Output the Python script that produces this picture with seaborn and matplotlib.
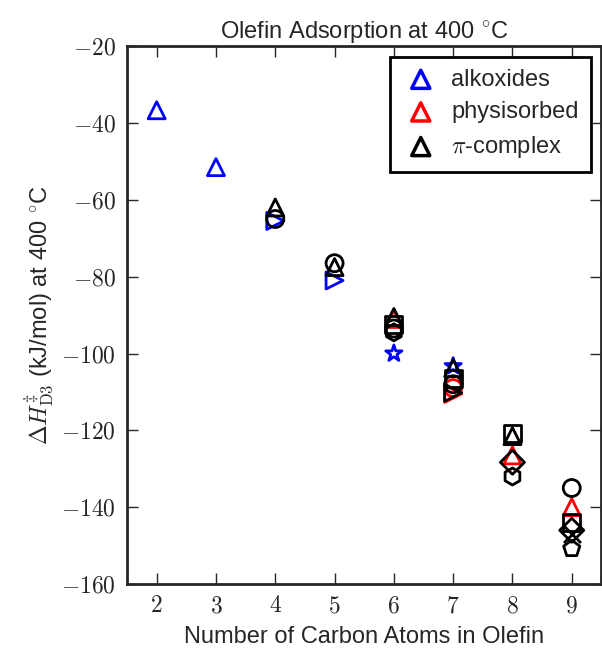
import matplotlib
matplotlib.use("Agg")
import matplotlib.pyplot as plt
from matplotlib.ticker import FuncFormatter, MultipleLocator
import seaborn as sns
import pandas as pd

# carbon number, enthalpy (kJ/mol), adsorption state, marker shape
carbons = [2, 3, 4, 5, 6, 7,
           6, 7, 7, 8, 9,
           4, 4, 5, 5, 6, 6, 6, 6, 7, 7, 7, 7, 8, 8, 8, 8, 9, 9, 9, 9, 9]
enthalpy = [-36.7, -51.5, -65.5, -81.0, -100.0, -103.3,
            -91.0, -109.0, -110.5, -126.5, -140.0,
            -62.0, -65.0, -76.5, -77.5, -90.5, -92.5, -93.5, -94.5,
            -103.8, -106.4, -108.0, -110.2,
            -120.8, -121.5, -128.3, -132.0,
            -135.0, -144.0, -146.0, -147.0, -150.8]
states = (["alkoxides"] * 6 + ["physisorbed"] * 5 + [r"$\pi$-complex"] * 21)
shapes = ["^", "^", ">", ">", "*", "*",
          "^", "o", ">", "^", "^",
          "^", "o", "o", "^", "^", "s", "o", "h",
          "^", "s", "o", ">",
          "s", "^", "D", "h",
          "o", "s", "D", "x", "p"]

colors = {"alkoxides": "blue", "physisorbed": "red", r"$\pi$-complex": "black"}

df = pd.DataFrame({"n": carbons, "dH": enthalpy, "state": states, "shape": shapes})

sns.set_style("ticks")
plt.rcParams["font.family"] = ["Liberation Sans", "DejaVu Sans"]
plt.rcParams["mathtext.fontset"] = "cm"

fig = plt.figure(figsize=(6.02, 6.49), dpi=100)
ax = fig.add_axes([0.211, 0.100, 0.788, 0.829])

for state in colors:
    sub = df[df.state == state]
    # triangles first so they carry the legend label
    order = ["^"] + [m for m in sub["shape"].unique() if m != "^"]
    for m in order:
        pts = sub[sub["shape"] == m]
        if pts.empty:
            continue
        kw = dict(label=state if m == "^" else None)
        if m == "x":
            kw.update(color=colors[state])
        else:
            kw.update(facecolor="none", edgecolor=colors[state])
        sns.scatterplot(data=pts, x="n", y="dH", marker=m, s=150,
                        linewidth=2, ax=ax, legend=False, **kw)

ax.set_xlim(1.5, 9.5)
ax.set_ylim(-160, -20)
ax.xaxis.set_major_locator(MultipleLocator(1))
ax.yaxis.set_major_locator(MultipleLocator(20))
ax.xaxis.set_major_formatter(FuncFormatter(lambda v, p: r"$%d$" % v))
ax.yaxis.set_major_formatter(FuncFormatter(lambda v, p: r"$%d$" % v))
ax.tick_params(direction="in", length=8, width=1, top=True, right=True,
               labelsize=17, pad=8)
for sp in ax.spines.values():
    sp.set_linewidth(2)

ax.set_title(r"Olefin Adsorption at 400 $^{\circ}$C", fontsize=17, pad=6)
ax.set_xlabel("Number of Carbon Atoms in Olefin", fontsize=17, labelpad=6)
ax.set_ylabel(r"$\Delta H^{\ddagger}_{\rm D3}$ (kJ/mol) at 400 $^{\circ}$C",
              fontsize=17, labelpad=4)

leg = ax.legend(loc="upper right", scatterpoints=1, fontsize=17,
                fancybox=False, framealpha=1, borderaxespad=0.45,
                handletextpad=0.5, labelspacing=0.45, borderpad=0.5,
                handlelength=1.6)
leg.get_frame().set_edgecolor("black")
leg.get_frame().set_linewidth(2)
for h in leg.legend_handles:
    h.set_sizes([170])
    h.set_linewidth(2.5)

fig.savefig("out.png", dpi=100)
